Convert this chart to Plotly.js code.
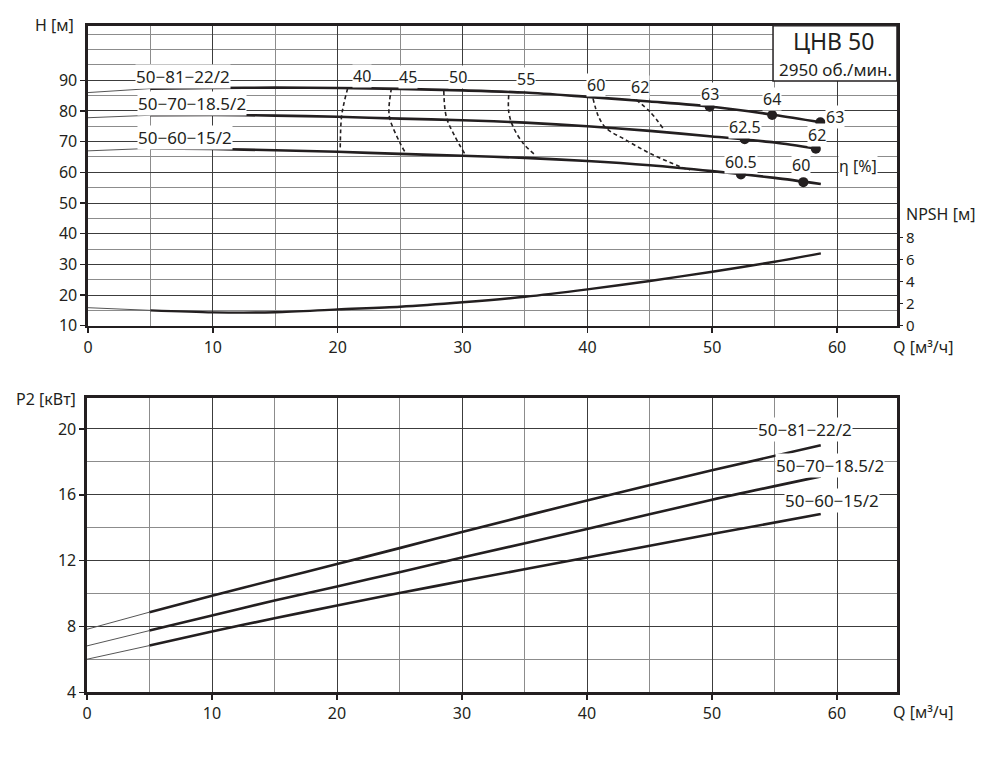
<!DOCTYPE html>
<html>
<head>
<meta charset="utf-8">
<script src="https://cdn.plot.ly/plotly-3.0.1.min.js"></script>
<style>
  html, body { margin: 0; padding: 0; background: #fff; }
  #chart { width: 1007px; height: 777px; }
</style>
</head>
<body>
<div id="chart"></div>
<script>
// --- Q axis ---
const qTicks = [0, 10, 20, 30, 40, 50, 60];
const qMinor = [5, 15, 25, 35, 45, 55];

// --- H(Q) curves: thin start (0..5), thick working part ---
const qThin = [0, 5];
const h81Thin = [86.0, 87.3];
const h70Thin = [77.8, 78.6];
const h60Thin = [67.0, 67.8];

const qH81 = [5, 10, 15, 20, 25, 30, 35, 40, 45, 50, 55, 58.7];
const h81 = [87.3, 87.5, 87.6, 87.5, 87.2, 86.7, 86.0, 84.6, 83.1, 81.4, 78.7, 76.3];
const qH70 = [5, 10, 15, 20, 25, 30, 35, 40, 45, 50, 55, 58.3];
const h70 = [78.6, 78.7, 78.5, 78.1, 77.5, 77.0, 76.2, 75.0, 73.5, 71.7, 69.7, 67.7];
const qH60 = [5, 10, 15, 20, 25, 30, 35, 40, 45, 50, 55, 58.7];
const h60 = [67.8, 67.6, 67.2, 66.7, 66.0, 65.4, 64.7, 63.7, 62.3, 60.4, 58.2, 56.2];

// --- efficiency points on curves ---
const effQ = [49.8, 54.8, 58.66, 52.6, 58.3, 52.3, 57.3];
const effH = [81.4, 78.7, 76.3, 70.8, 67.7, 59.3, 56.8];
const effText = ['63', '64', '63', '62.5', '62', '60.5', '60'];
const effTextQ = [49.8, 54.76, 59.8, 52.6, 58.4, 52.3, 57.1];
const effTextH = [85.5, 83.9, 77.9, 74.9, 72.2, 63.3, 62.4];

// --- iso-efficiency lines (dashed) ---
const isoNames = ['40', '45', '50', '55', '60', '62'];
const isoQ = [
  [20.8, 20.5, 20.3, 20.2],
  [24.3, 24.1, 24.2, 25.0, 25.45],
  [28.5, 28.7, 29.4, 30.2],
  [33.7, 33.7, 34.05, 34.85, 35.8],
  [40.45, 40.9, 41.5, 43.1, 45.0, 47.4, 48.2],
  [43.9, 45.0, 46.05]
];
const isoH = [
  [87.4, 82.5, 77.9, 67.2],
  [87.4, 80.3, 77.1, 69.5, 66.2],
  [86.5, 78.1, 71.6, 65.9],
  [85.2, 79.8, 74.9, 69.5, 65.7],
  [84.1, 78.1, 74.4, 70.5, 66.2, 61.9, 60.8],
  [83.6, 79.8, 74.4]
];
const isoLabelQ = [21.96, 25.65, 29.65, 35.1, 40.7, 44.2];
const isoLabelH = [91.5, 91.2, 91.2, 90.4, 88.5, 87.7];

// --- NPSH ---
const npshThin = [1.63, 1.39];
const qNpsh = [5, 10, 15, 20, 25, 30, 35, 40, 45, 50, 55, 58.7];
const npsh = [1.39, 1.21, 1.22, 1.48, 1.72, 2.12, 2.62, 3.29, 4.05, 4.89, 5.79, 6.55];

// --- P2(Q) ---
const qP = [5, 10, 15, 20, 25, 30, 40, 50, 58.7];
const p81Thin = [7.83, 8.87];
const p70Thin = [6.82, 7.75];
const p60Thin = [6.01, 6.84];
const p81 = [8.87, 9.86, 10.84, 11.79, 12.76, 13.74, 15.66, 17.49, 19.01];
const p70 = [7.75, 8.66, 9.58, 10.43, 11.30, 12.19, 13.92, 15.70, 17.12];
const p60 = [6.84, 7.69, 8.50, 9.27, 10.03, 10.76, 12.19, 13.62, 14.83];

// --- names / ticks ---
const pumpNames = ['50−81−22/2', '50−70−18.5/2', '50−60−15/2'];
const nameQTop = [7.6, 8.35, 7.77];
const nameHTop = [91.4, 82.3, 71.4];
const nameQBot = [57.44, 59.44, 59.6];
const namePBot = [19.96, 17.77, 15.66];
const hTicks = [10, 20, 30, 40, 50, 60, 70, 80, 90];
const hMinor = [15, 25, 35, 45, 55, 65, 75, 85, 95, 100, 105];
const npshTicks = [0, 2, 4, 6, 8];
const pTicks = [4, 8, 12, 16, 20];
const pMinor = [6, 10, 14, 18];

const INK = '#231f20';
const FONT = 'Noto Sans, Open Sans, sans-serif';

const traces = [];
const line = (x, y, w, xa, ya, extra = {}) => traces.push(Object.assign({
  x, y, type: 'scatter', mode: 'lines', xaxis: xa, yaxis: ya,
  line: { color: INK, width: w, shape: 'spline', smoothing: 0.8 },
  hoverinfo: 'skip', showlegend: false
}, extra));

// H curves
[[h81Thin, qH81, h81], [h70Thin, qH70, h70], [h60Thin, qH60, h60]].forEach(([thin, q, h]) => {
  line(qThin, thin, 1, 'x', 'y', { line: { color: '#555', width: 1 } });
  line(q, h, 2.6, 'x', 'y');
});

// iso-efficiency
isoQ.forEach((q, i) => {
  line(q, isoH[i], 1.5, 'x', 'y', { line: { color: INK, width: 1.6, dash: '4px,3px', shape: 'spline' } });
});

// efficiency dots
traces.push({
  x: effQ, y: effH, type: 'scatter', mode: 'markers', xaxis: 'x', yaxis: 'y',
  marker: { size: 10, color: INK }, hoverinfo: 'skip', showlegend: false
});

// NPSH
line(qThin, npshThin, 1, 'x', 'y2', { line: { color: '#555', width: 1 } });
line(qNpsh, npsh, 2.4, 'x', 'y2');

// P2
[[p81Thin, p81], [p70Thin, p70], [p60Thin, p60]].forEach(([thin, p]) => {
  line(qThin, thin, 1, 'x2', 'y3', { line: { color: '#555', width: 1 } });
  line(qP, p, 2.6, 'x2', 'y3');
});

// ============ layout ============
const W = 1007, H = 777;
const px = v => v / W;
const py = v => 1 - v / H;

const gridMajor = '#3c3c3c';
const gridMinor = '#8c8c8c';
const tickFont = { family: FONT, size: 16, color: INK };

const xCommon = {
  range: [0, 64.8], tickvals: qTicks, ticks: 'outside', ticklen: 5, tickwidth: 1.5, tickcolor: INK,
  showgrid: true, gridcolor: gridMajor, gridwidth: 1,
  minor: { tickvals: qMinor, showgrid: true, gridcolor: gridMinor, gridwidth: 1, ticks: '' },
  showline: true, mirror: true, linecolor: INK, linewidth: 2.6,
  zeroline: false, tickfont: tickFont, fixedrange: true, automargin: false
};

const annotations = [];
const ann = (text, x, y, xref, yref, size, extra = {}) => annotations.push(Object.assign({
  text, x, y, xref, yref, xanchor: 'center', yanchor: 'middle', showarrow: false,
  font: { family: FONT, size, color: INK }, bgcolor: '#ffffff', borderpad: 0
}, extra));

pumpNames.forEach((n, i) => {
  ann(n, nameQTop[i], nameHTop[i], 'x', 'y', 17);
  ann(n, nameQBot[i], namePBot[i], 'x2', 'y3', 17);
});
isoNames.forEach((n, i) => ann(n, isoLabelQ[i], isoLabelH[i], 'x', 'y', 16));
effText.forEach((t, i) => ann(t, effTextQ[i], effTextH[i], 'x', 'y', 16));
ann('η [%]', 61.7, 61.9, 'x', 'y', 16);

// title box texts
const noBg = { bgcolor: 'rgba(0,0,0,0)' };
ann('ЦНВ 50', px(833), py(41), 'paper', 'paper', 23, noBg);
ann('2950 об./мин.', px(835), py(70), 'paper', 'paper', 17, noBg);

// axis titles
ann('H [м]', px(75), py(25), 'paper', 'paper', 16, { xanchor: 'right', ...noBg });
ann('P2 [кВт]', px(77), py(399), 'paper', 'paper', 16, { xanchor: 'right', ...noBg });
ann('NPSH [м]', px(905), py(214), 'paper', 'paper', 16, { xanchor: 'left', ...noBg });
ann('Q [м³/ч]', px(892), py(347), 'paper', 'paper', 16, { xanchor: 'left', yanchor: 'middle', ...noBg });
ann('Q [м³/ч]', px(892), py(712), 'paper', 'paper', 16, { xanchor: 'left', ...noBg });

const layout = {
  width: W, height: H,
  margin: { l: 0, r: 0, t: 0, b: 0 },
  paper_bgcolor: '#ffffff', plot_bgcolor: '#ffffff',
  showlegend: false, hovermode: false,
  font: { family: FONT, color: INK },

  xaxis: Object.assign({}, xCommon, { domain: [px(88), px(897)], anchor: 'y' }),
  yaxis: {
    domain: [py(325.7), py(25.7)], range: [10, 107.8], anchor: 'x',
    tickvals: hTicks, ticks: 'outside', ticklen: 5, tickwidth: 1.5, tickcolor: INK,
    showgrid: true, gridcolor: gridMajor, gridwidth: 1,
    minor: { tickvals: hMinor, showgrid: true, gridcolor: gridMinor, gridwidth: 1, ticks: '' },
    showline: true, mirror: true, linecolor: INK, linewidth: 2.6,
    zeroline: false, tickfont: tickFont, fixedrange: true, automargin: false
  },
  yaxis2: {
    overlaying: 'y', anchor: 'x', side: 'right', range: [0, 27.17],
    tickvals: npshTicks, ticks: 'outside', ticklen: 5, tickwidth: 1.5, tickcolor: INK,
    showgrid: false, showline: false, zeroline: false,
    tickfont: { family: FONT, size: 15, color: INK }, fixedrange: true, automargin: false
  },

  xaxis2: Object.assign({}, xCommon, { domain: [px(87), px(897)], anchor: 'y3' }),
  yaxis3: {
    domain: [py(692.3), py(397.7)], range: [4, 21.9], anchor: 'x2',
    tickvals: pTicks, ticks: 'outside', ticklen: 5, tickwidth: 1.5, tickcolor: INK,
    showgrid: true, gridcolor: gridMajor, gridwidth: 1,
    minor: { tickvals: pMinor, showgrid: true, gridcolor: gridMinor, gridwidth: 1, ticks: '' },
    showline: true, mirror: true, linecolor: INK, linewidth: 2.6,
    zeroline: false, tickfont: tickFont, fixedrange: true, automargin: false
  },

  shapes: [
    // title box in the top-right corner
    { type: 'rect', xref: 'x', yref: 'y', x0: 54.87, x1: 64.8, y0: 89.8, y1: 107.8,
      fillcolor: '#ffffff', line: { color: INK, width: 1.5 }, layer: 'above' }
  ],
  annotations
};

Plotly.newPlot('chart', traces, layout, { displayModeBar: false, staticPlot: true });
</script>
</body>
</html>
